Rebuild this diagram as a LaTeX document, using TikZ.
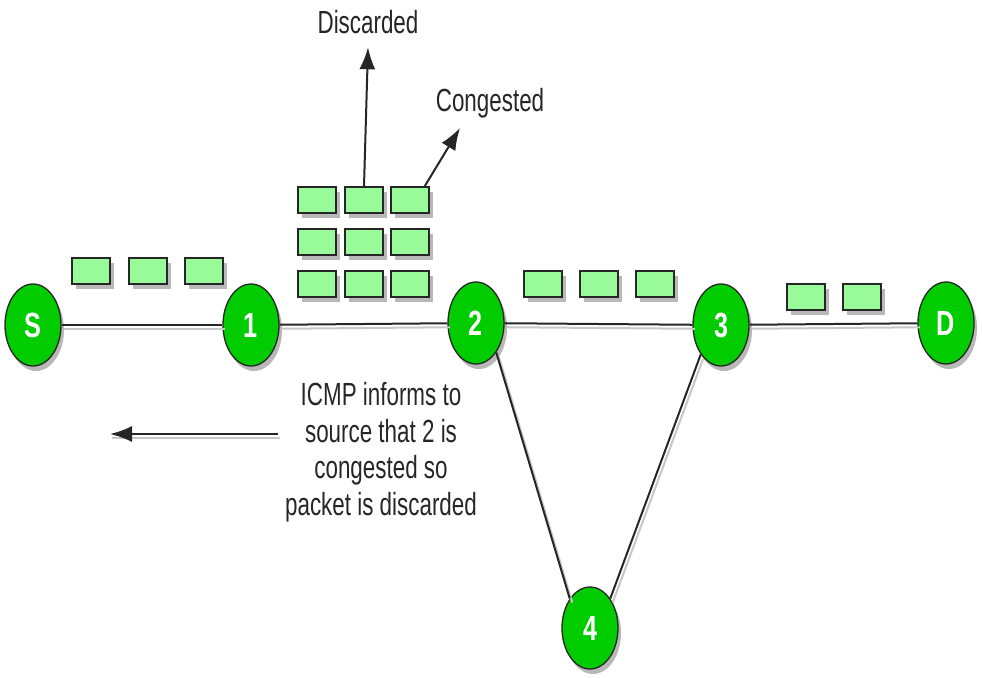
\documentclass[tikz,border=0pt]{standalone}
\usepackage{fontspec}
\usepackage{tikz}
\usetikzlibrary{arrows.meta, positioning, shapes.geometric}

\newfontfamily\labelfont[FakeStretch=0.70]{Liberation Sans}
\newfontfamily\routerfont[FakeStretch=0.72]{Liberation Sans Bold}

\definecolor{routergreen}{RGB}{0,204,0}
\definecolor{packetgreen}{RGB}{153,250,153}

\begin{document}
\begin{tikzpicture}[
  x=1pt, y=-1pt,
  shade behind/.style = {preaction={fill=black!28, draw=none,
                         transform canvas={shift={(#1)}}}},
  router/.style = {draw=black!85, line width=1.3pt, ellipse, fill=routergreen,
                   minimum width=56pt, minimum height=82pt, inner sep=0pt,
                   text=white, font=\routerfont\fontsize{35}{35}\selectfont,
                   shade behind={3pt,-5pt}},
  packet/.style = {draw=black!85, line width=1.3pt, fill=packetgreen,
                   minimum width=38pt, minimum height=26pt, inner sep=0pt,
                   shade behind={4pt,-5pt}},
  txt/.style    = {text=black!85, align=center,
                   font=\labelfont\fontsize{32}{36.5}\selectfont},
  link/.style   = {draw=black!85, line width=2pt,
                   preaction={draw=black!22, line width=2pt,
                              transform canvas={shift={(2.5pt,-4pt)}}}},
  arrow/.style  = {draw=black!85, line width=2pt, -{Latex[length=22pt, width=16pt]}}
]
  \useasboundingbox (0,0) rectangle (982,677);

  % routers along the path
  \node[router] (s)  at (33,325)  {S};
  \node[router] (n1) at (251,325) {1};
  \node[router] (n2) at (476,323) {2};
  \node[router] (n3) at (721,325) {3};
  \node[router] (d)  at (946,323) {D};
  \node[router] (n4) at (590,628) {4};

  % links
  \draw[link] (s) -- (n1);
  \draw[link] (n1) -- (n2);
  \draw[link] (n2) -- (n3);
  \draw[link] (n3) -- (d);
  \draw[link] (n2.south east) -- (n4.north west);
  \draw[link] (n3.south west) -- (n4.north east);

  % packets between S and 1
  \node[packet] (pa1) at (91,271)  {};
  \node[packet] (pa2) at (148,271) {};
  \node[packet] (pa3) at (204,271) {};

  % packets queued at 2
  \node[packet] (q11) at (317,200) {};
  \node[packet] (q12) at (364,200) {};
  \node[packet] (q13) at (410,200) {};
  \node[packet] (q21) at (317,242) {};
  \node[packet] (q22) at (364,242) {};
  \node[packet] (q23) at (410,242) {};
  \node[packet] (q31) at (317,284) {};
  \node[packet] (q32) at (364,284) {};
  \node[packet] (q33) at (410,284) {};

  % packets between 2 and 3
  \node[packet] (pb1) at (543,284) {};
  \node[packet] (pb2) at (599,284) {};
  \node[packet] (pb3) at (655,284) {};

  % packets between 3 and D
  \node[packet] (pc1) at (806,297) {};
  \node[packet] (pc2) at (862,297) {};

  % labels above the queue
  \node[txt] (discarded) at (368,22)  {Discarded};
  \node[txt] (congested) at (490,103) {Congested};
  \coordinate (congtip) at (460,128);

  \draw[arrow] (q12.north) -- ([yshift=-10pt]discarded.south);
  \draw[arrow] ([xshift=-5pt]q13.north east) -- (congtip);

  % ICMP message back to the source
  \node[txt] (icmp) at (381,452) {ICMP informs to\\source that 2 is\\congested so\\packet is discarded};
  \coordinate (icmptail) at (278,434);
  \coordinate (icmphead) at (110,434);
  \draw[arrow, preaction={draw=black!22, line width=2pt, arrows={-},
        transform canvas={shift={(2pt,-4pt)}}}] (icmptail) -- (icmphead);

\end{tikzpicture}
\end{document}
